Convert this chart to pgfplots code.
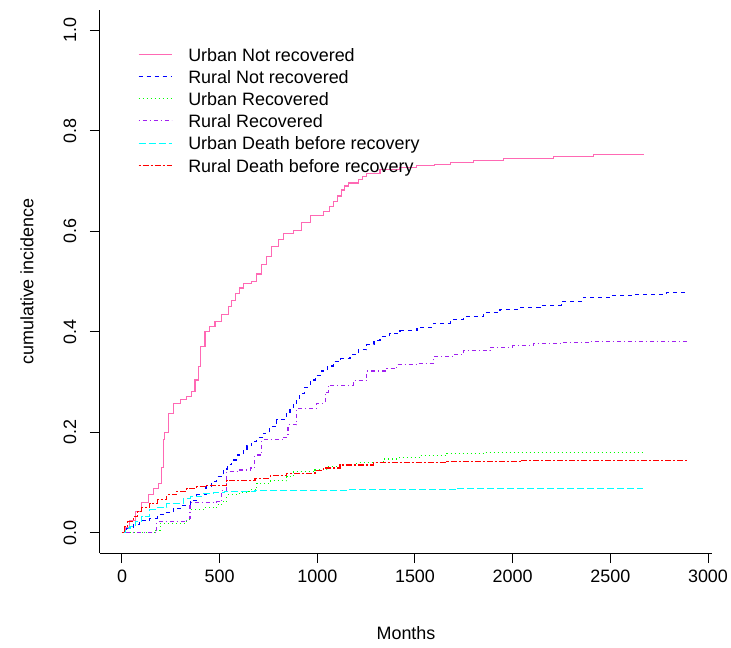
\documentclass[border=0pt]{standalone}
\usepackage{fontspec}
\setmainfont{Liberation Sans}
\usepackage{pgfplots}
\pgfplotsset{compat=1.18}
\definecolor{rpink}{RGB}{255,105,180}
\definecolor{rblue}{RGB}{0,0,255}
\definecolor{rgreen}{RGB}{0,255,0}
\definecolor{rpurple}{RGB}{160,32,240}
\definecolor{rcyan}{RGB}{0,255,255}
\definecolor{rred}{RGB}{255,0,0}
\newcommand{\ff}{\fontsize{18}{21.6}\selectfont}
\begin{document}
\ff
\begin{tikzpicture}
\begin{axis}[
  scale only axis, width=612bp, height=543bp,
  xmin=-112.6, xmax=3020.5, ymin=-0.04, ymax=1.04,
  axis x line*=bottom, axis y line*=left,
  axis line style={-, line width=1bp, black},
  xtick={0,500,...,3000}, ytick={0,0.2,...,1.0},
  yticklabels={0.0,0.2,0.4,0.6,0.8,1.0},
  tick align=outside, major tick length=10bp,
  tick style={line width=1bp, black},
  /pgf/number format/assume math mode=true,
  /pgf/number format/set thousands separator={},
  tick label style={font=\ff, inner sep=0pt},
  xticklabel style={anchor=north, yshift=-6.5bp},
  yticklabel style={rotate=90, anchor=south, yshift=13.5bp},
  xlabel={Months}, ylabel={cumulative incidence},
  every axis x label/.style={at={([yshift=-80bp]axis description cs:0.5,0)}, anchor=center, font=\ff},
  every axis y label/.style={at={([xshift=-73bp]axis description cs:0,0.5)}, anchor=center, rotate=90, font=\ff},
  legend style={draw=none, fill=none, at={([xshift=35bp,yshift=-35bp]axis description cs:0,1)}, anchor=north west,
    font=\ff, nodes={inner sep=0pt, text height=14bp, text depth=8.2bp}, column sep=16bp, row sep=0pt},
  legend cell align=left,
  legend image code/.code={\draw[#1] (0bp,4bp) -- (33bp,4bp);},
  every axis plot/.append style={line width=1.1bp, const plot mark left, no marks},
  clip=false,
]
\coordinate (ll) at (rel axis cs:0,0);
\coordinate (ur) at (rel axis cs:1,1);

\addplot[rpink] coordinates {
(0,0) (20,0.01) (40,0.025) (67,0.042) (100,0.06) (134,0.076) (160,0.088) (186,0.099)
(200,0.13) (211,0.185) (217,0.20) (237,0.238) (263,0.258) (300,0.265) (330,0.272)
(357,0.281) (374,0.304) (391,0.331) (404,0.370) (425,0.400) (450,0.41) (476,0.420)
(510,0.435) (544,0.450) (560,0.462) (579,0.477) (600,0.487) (621,0.496) (664,0.500)
(690,0.515) (715,0.533) (740,0.550) (766,0.569) (800,0.583) (826,0.596) (877,0.602)
(920,0.618) (963,0.632) (1031,0.639) (1060,0.650) (1082,0.659) (1105,0.670) (1125,0.682)
(1140,0.690) (1159,0.696) (1210,0.702) (1230,0.709) (1253,0.715)
(1321,0.723) (1420,0.727) (1509,0.730) (1600,0.733) (1680,0.736) (1800,0.740)
(1952,0.745) (2208,0.748) (2413,0.752) (2669,0.753)};
\addlegendentry{Urban Not recovered}

\addplot[rblue, dash pattern=on 4bp off 4bp] coordinates {
(0,0) (25,0.008) (58,0.016) (90,0.024) (143,0.029) (180,0.036) (220,0.040) (262,0.049)
(305,0.055) (350,0.065) (382,0.0755) (430,0.093) (460,0.103) (485,0.112) (520,0.127)
(540,0.136) (562,0.145) (590,0.155) (621,0.165) (640,0.173) (664,0.182) (690,0.189)
(723,0.198) (755,0.211) (792,0.225) (840,0.240) (860,0.249) (877,0.258) (895,0.268)
(911,0.278) (935,0.290) (963,0.304) (990,0.313) (1020,0.322) (1050,0.332) (1082,0.341)
(1120,0.347) (1167,0.354) (1210,0.364) (1253,0.374) (1290,0.383) (1321,0.390)
(1370,0.397) (1423,0.402) (1510,0.409) (1594,0.417) (1680,0.424) (1748,0.430) (1850,0.438)
(1935,0.445) (2040,0.449) (2140,0.453) (2250,0.461) (2362,0.469) (2500,0.473)
(2618,0.475) (2789,0.4785) (2900,0.4785)};
\addlegendentry{Rural Not recovered}

\addplot[rgreen, dash pattern=on 1bp off 3bp] coordinates {
(0,0) (160,0) (170,0.005) (195,0.019) (331,0.026) (348,0.046) (420,0.050) (485,0.056)
(510,0.062) (536,0.0755) (600,0.080) (650,0.086) (690,0.099) (760,0.104) (843,0.112)
(877,0.122) (988,0.126) (1048,0.132) (1116,0.136) (1202,0.140) (1337,0.147)
(1420,0.150) (1526,0.154) (1662,0.158) (1850,0.160) (2668,0.160)};
\addlegendentry{Urban Recovered}

\addplot[rpurple, dash pattern=on 1bp off 3bp on 4bp off 3bp] coordinates {
(0,0) (170,0) (178,0.022) (331,0.028) (348,0.060) (485,0.062) (510,0.085) (536,0.122)
(600,0.125) (660,0.129) (680,0.155) (715,0.185) (826,0.190) (850,0.215) (894,0.248)
(997,0.258) (1040,0.280) (1056,0.294) (1184,0.303) (1253,0.322) (1355,0.327)
(1406,0.335) (1509,0.337) (1594,0.350) (1697,0.354) (1748,0.362) (1884,0.369)
(2000,0.372) (2106,0.376) (2250,0.378) (2396,0.380) (2900,0.3817)};
\addlegendentry{Rural Recovered}

\addplot[rcyan, dash pattern=on 7bp off 3bp] coordinates {
(0,0) (20,0.008) (41,0.0125) (67,0.022) (100,0.033) (143,0.046) (169,0.050) (230,0.058)
(314,0.069) (350,0.072) (408,0.0775) (470,0.080) (527,0.0815) (681,0.0835)
(1157,0.084) (1160,0.086) (1714,0.086) (1720,0.089) (2668,0.089)};
\addlegendentry{Urban Death before recovery}

\addplot[rred, dash pattern=on 2bp off 2bp on 6bp off 2bp] coordinates {
(0,0) (15,0.012) (30,0.022) (58,0.032) (80,0.043) (100,0.050) (143,0.059) (180,0.066)
(229,0.0755) (280,0.083) (331,0.089) (380,0.092) (425,0.095) (536,0.105) (681,0.109)
(760,0.114) (843,0.119) (988,0.124) (1030,0.129) (1116,0.135) (1286,0.140)
(1662,0.142) (2038,0.1445) (2900,0.1445)};
\addlegendentry{Rural Death before recovery}
\end{axis}
\pgfresetboundingbox
\path ([shift={(-100bp,-95bp)}]ll) rectangle ([shift={(19bp,10bp)}]ur);
\end{tikzpicture}
\end{document}
